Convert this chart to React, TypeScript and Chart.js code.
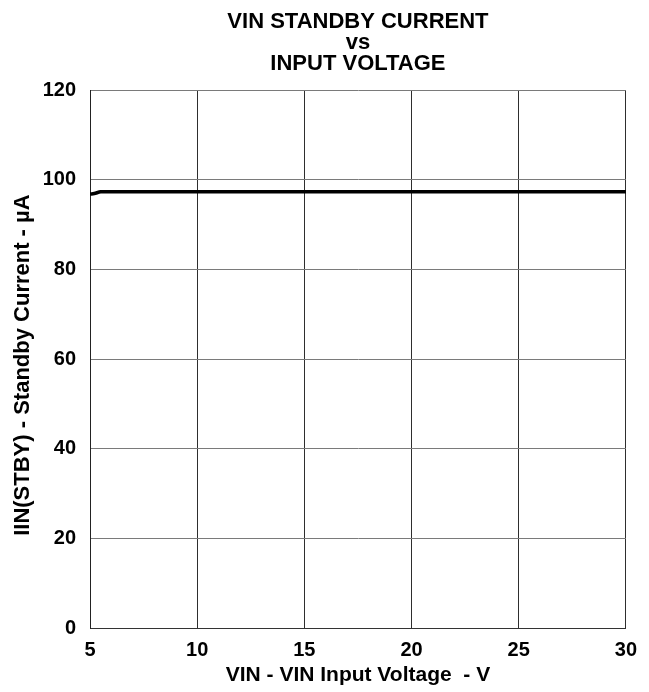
import React, { useEffect, useRef } from "react";
import { Chart, registerables } from "chart.js";

Chart.register(...registerables);

const vin = [5, 5.2, 5.5, 6, 8, 10, 15, 20, 25, 30];
const current = [96.8, 96.9, 97.3, 97.3, 97.3, 97.3, 97.3, 97.3, 97.3, 97.3];
const titleLines = ["VIN STANDBY CURRENT", "vs", "INPUT VOLTAGE"];
const xTitle = "VIN - VIN Input Voltage  - V";
const yTitle = "IIN(STBY) - Standby Current - µA  ";

const FONT = "Arial, 'Liberation Sans', Helvetica, sans-serif";

const centeredTitle = {
  id: "centeredTitle",
  afterDraw(chart: any) {
    const { ctx, chartArea } = chart;
    ctx.save();
    ctx.font = `bold 22px ${FONT}`;
    ctx.fillStyle = "#000";
    ctx.textAlign = "center";
    ctx.textBaseline = "alphabetic";
    const cx = (chartArea.left + chartArea.right) / 2;
    titleLines.forEach((t, i) => ctx.fillText(t, cx, 28 + i * 21));
    ctx.restore();
  },
};

export default function App() {
  const ref = useRef<HTMLCanvasElement | null>(null);
  useEffect(() => {
    document.body.style.margin = "0";
    const ctx = ref.current!;
    const chart = new Chart(ctx, {
      type: "line",
      data: {
        datasets: [
          {
            data: vin.map((x, i) => ({ x, y: current[i] })),
            borderColor: "#000",
            borderWidth: 3.5,
            pointRadius: 0,
            tension: 0.3,
            fill: false,
          },
        ],
      },
      plugins: [centeredTitle],
      options: {
        animation: false,
        responsive: false,
        maintainAspectRatio: false,
        layout: { padding: { left: 0, right: 23, top: 90, bottom: 0 } },
        plugins: {
          legend: { display: false },
          tooltip: { enabled: false },
          title: { display: false },
        },
        scales: {
          x: {
            type: "linear",
            min: 5,
            max: 30,
            afterFit: (s: any) => {
              s.height = 64;
            },
            ticks: {
              stepSize: 5,
              color: "#000",
              font: { family: FONT, size: 20, weight: "bold", lineHeight: 1 },
              padding: 12,
            },
            grid: { color: "#2e2e2e", lineWidth: 1, drawTicks: false },
            border: { color: "#333", width: 1 },
            title: {
              display: true,
              text: xTitle,
              color: "#000",
              font: { family: FONT, size: 21, weight: "bold", lineHeight: 1 },
              padding: { top: 0, bottom: 6 },
            },
          },
          y: {
            min: 0,
            max: 120,
            afterFit: (s: any) => {
              s.width = 90;
            },
            ticks: {
              stepSize: 20,
              color: "#000",
              font: { family: FONT, size: 20, weight: "bold", lineHeight: 1 },
              padding: 14,
            },
            grid: { color: "#7a7a7a", lineWidth: 1, drawTicks: false },
            border: { color: "#222", width: 1 },
            title: {
              display: true,
              text: yTitle,
              color: "#000",
              font: { family: FONT, size: 22, weight: "bold", lineHeight: 1 },
              padding: { top: 12, bottom: 0 },
            },
          },
        },
      },
    } as any);
    return () => chart.destroy();
  }, []);
  return <canvas ref={ref} width={649} height={692} style={{ display: "block" }} />;
}
